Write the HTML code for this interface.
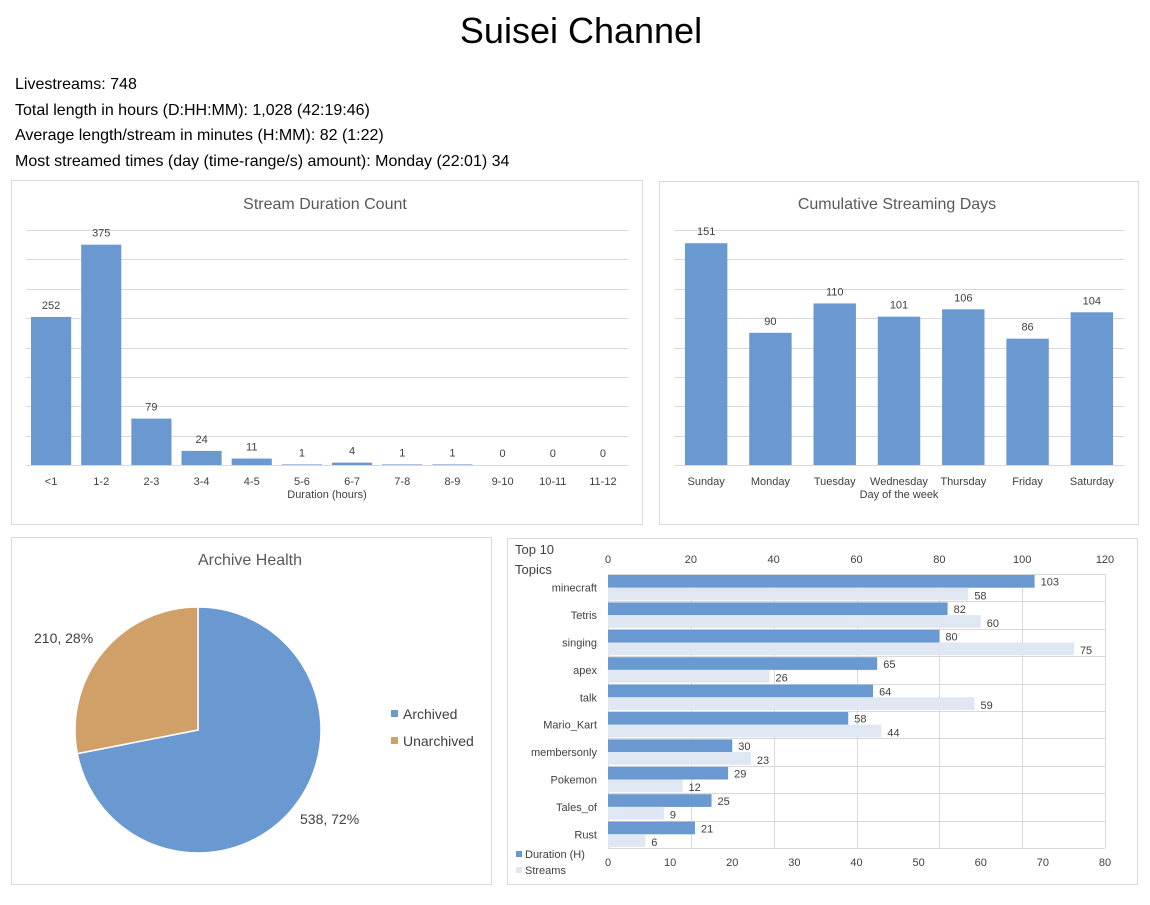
<!DOCTYPE html>
<html><head><meta charset="utf-8"><style>
body{margin:0;background:#fff;width:1150px;height:900px;overflow:hidden;font-family:"Liberation Sans",sans-serif}
svg text{font-family:"Liberation Sans",sans-serif}
</style></head><body>
<svg id="s" width="1150" height="900">
<text x="581" y="43" font-size="36" text-anchor="middle" fill="#000">Suisei Channel</text>
<g font-size="16" fill="#000">
<text x="15" y="89">Livestreams: 748</text>
<text x="15" y="115">Total length in hours (D:HH:MM): 1,028 (42:19:46)</text>
<text x="15" y="140">Average length/stream in minutes (H:MM): 82 (1:22)</text>
<text x="15" y="166">Most streamed times (day (time-range/s) amount): Monday (22:01) 34</text>
</g>
<rect x="11.5" y="180.5" width="631" height="344" fill="none" stroke="#d9d9d9"/>
<rect x="659.5" y="181.5" width="479" height="343" fill="none" stroke="#d9d9d9"/>
<rect x="11.5" y="537.5" width="480" height="347" fill="none" stroke="#d9d9d9"/>
<rect x="507.5" y="538.5" width="630" height="346" fill="none" stroke="#d9d9d9"/>
<g id="c1"></g><g id="c2"></g><g id="c3"></g><g id="c4"></g>
</svg>
<script>
const durCats=["<1","1-2","2-3","3-4","4-5","5-6","6-7","7-8","8-9","9-10","10-11","11-12"];
const durVals=[252,375,79,24,11,1,4,1,1,0,0,0];
const dayCats=["Sunday","Monday","Tuesday","Wednesday","Thursday","Friday","Saturday"];
const dayVals=[151,90,110,101,106,86,104];
const pieCats=["Archived","Unarchived"];
const pieVals=[538,210];
const topicCats=["minecraft","Tetris","singing","apex","talk","Mario_Kart","membersonly","Pokemon","Tales_of","Rust"];
const topicDur=[103,82,80,65,64,58,30,29,25,21];
const topicStreams=[58,60,75,26,59,44,23,12,9,6];
const durTicks=[0,120,20];
const streamTicks=[0,80,10];

const NS="http://www.w3.org/2000/svg";
const BLUE="#6a98d0",TAN="#d0a068",LIGHT="#dfe7f3",GRID="#d9d9d9",TXT="#404040";
function mk(p,tag,a,txt){const e=document.createElementNS(NS,tag);for(const k in a)e.setAttribute(k,a[k]);if(txt!==undefined)e.textContent=txt;p.appendChild(e);return e;}

function colChart(g,cats,vals,max,x0,x1,title,titleX,axisTitle,gap){
  const yb=465,yt=230,steps=8;
  const y=v=>yb-v/max*(yb-yt);
  const t=mk(g,'text',{x:titleX,y:209,'font-size':16,'text-anchor':'middle',fill:'#595959'},title);
  
  
  for(let i=0;i<=steps;i++){const yy=Math.round(y(max*i/steps))+0.5;
    const l=mk(g,'line',{x1:x0,x2:x1,y1:yy,y2:yy,stroke:GRID});
    
    }
  const band=(x1-x0)/cats.length,bw=band*gap;
  cats.forEach((c,i)=>{
    const cx=x0+band*(i+0.5);
    const r=mk(g,'rect',{x:cx-bw/2,y:y(vals[i]),width:bw,height:yb-y(vals[i]),fill:BLUE});
    
    
    const v=mk(g,'text',{x:cx,y:y(vals[i])-8,'font-size':11,'text-anchor':'middle',fill:TXT},vals[i]);
    
    
    const lb=mk(g,'text',{x:cx,y:485,'font-size':11,'text-anchor':'middle',fill:TXT},c);
    
    
  });
  const at=mk(g,'text',{x:(x0+x1)/2,y:498,'font-size':11,'text-anchor':'middle',fill:TXT},axisTitle);
  
  
}
colChart(document.getElementById('c1'),durCats,durVals,400,26,628,"Stream Duration Count",325,"Duration (hours)",0.8);
colChart(document.getElementById('c2'),dayCats,dayVals,160,674,1124,"Cumulative Streaming Days",897,"Day of the week",0.66);

// pie
(function(){
  const g=document.getElementById('c3');
  const cx=198,cy=730,r=123;
  const t=mk(g,'text',{x:250,y:565,'font-size':16,'text-anchor':'middle',fill:'#595959'},"Archive Health");
  
  
  const tot=pieVals.reduce((a,b)=>a+b,0);let a0=0;const cols=[BLUE,TAN];
  const lblPos=[[300,824],[34,643]];
  pieVals.forEach((v,i)=>{
    const a1=a0+v/tot*2*Math.PI;
    const p=(a)=>[cx+r*Math.sin(a),cy-r*Math.cos(a)];
    const [sx,sy]=p(a0),[ex,ey]=p(a1);
    const s=mk(g,'path',{d:`M${cx},${cy}L${sx},${sy}A${r},${r} 0 ${a1-a0>Math.PI?1:0} 1 ${ex},${ey}Z`,fill:cols[i],stroke:'#fff','stroke-width':1.5});
    
    
    const l=mk(g,'text',{x:lblPos[i][0],y:lblPos[i][1],'font-size':14,fill:TXT},v+", "+Math.round(v/tot*100)+"%");
    
    
    const lr=mk(g,'rect',{x:391,y:710+i*27,width:7,height:7,fill:cols[i]});
    
    
    const lt=mk(g,'text',{x:403,y:719+i*27,'font-size':14,fill:TXT},pieCats[i]);
    
    
    a0=a1;
  });
})();

// horizontal bars
(function(){
  const g=document.getElementById('c4');
  const x0=608,x1=1105,yt=574,yb=848;
  const xd=v=>x0+(v-durTicks[0])/(durTicks[1]-durTicks[0])*(x1-x0);
  const xs=v=>x0+(v-streamTicks[0])/(streamTicks[1]-streamTicks[0])*(x1-x0);
  const t1=mk(g,'text',{x:515,y:554,'font-size':13,fill:TXT},"Top 10");
  
  
  const t2=mk(g,'text',{x:515,y:574,'font-size':13,fill:TXT},"Topics");
  
  
  for(let v=durTicks[0];v<=durTicks[1];v+=durTicks[2]){
    const xx=Math.round(xd(v))+0.5;
    const l=mk(g,'line',{x1:xx,x2:xx,y1:yt,y2:yb,stroke:GRID});
    
    
    const tl=mk(g,'text',{x:xd(v),y:563,'font-size':11,'text-anchor':'middle',fill:TXT},v);
    
    
  }
  for(let v=streamTicks[0];v<=streamTicks[1];v+=streamTicks[2]){
    const tl=mk(g,'text',{x:xs(v),y:866,'font-size':11,'text-anchor':'middle',fill:TXT},v);
    
    
  }
  const band=(yb-yt)/topicCats.length;
  for(let i=0;i<=topicCats.length;i++){const yy=Math.round(yt+band*i)+0.5;
    const l=mk(g,'line',{x1:x0,x2:x1,y1:yy,y2:yy,stroke:GRID});
    
    }
  const rl=mk(g,'line',{x1:x1+0.5,x2:x1+0.5,y1:yt,y2:yb,stroke:GRID});
  
  
  topicCats.forEach((c,i)=>{
    const y0=yt+band*i+1,h=(band-2)/2;
    const b1=mk(g,'rect',{x:x0,y:y0,width:xd(topicDur[i])-x0,height:h,fill:BLUE});
    
    
    const b2=mk(g,'rect',{x:x0,y:y0+h,width:xs(topicStreams[i])-x0,height:h,fill:LIGHT});
    
    
    const v1=mk(g,'text',{x:xd(topicDur[i])+6,y:y0+h-2,'font-size':11,fill:TXT},topicDur[i]);
    
    
    const v2=mk(g,'text',{x:xs(topicStreams[i])+6,y:y0+2*h-1,'font-size':11,fill:TXT},topicStreams[i]);
    
    
    const lb=mk(g,'text',{x:597,y:yt+band*i+band/2+4,'font-size':11,'text-anchor':'end',fill:TXT},c);
    
    
  });
  [["Duration (H)",BLUE],["Streams",LIGHT]].forEach((e,i)=>{
    const r=mk(g,'rect',{x:516,y:851+i*16,width:6,height:6,fill:e[1]});
    
    
    const t=mk(g,'text',{x:525,y:858+i*16,'font-size':11,fill:TXT},e[0]);
    
    
  });
})();
</script>
</body></html>
